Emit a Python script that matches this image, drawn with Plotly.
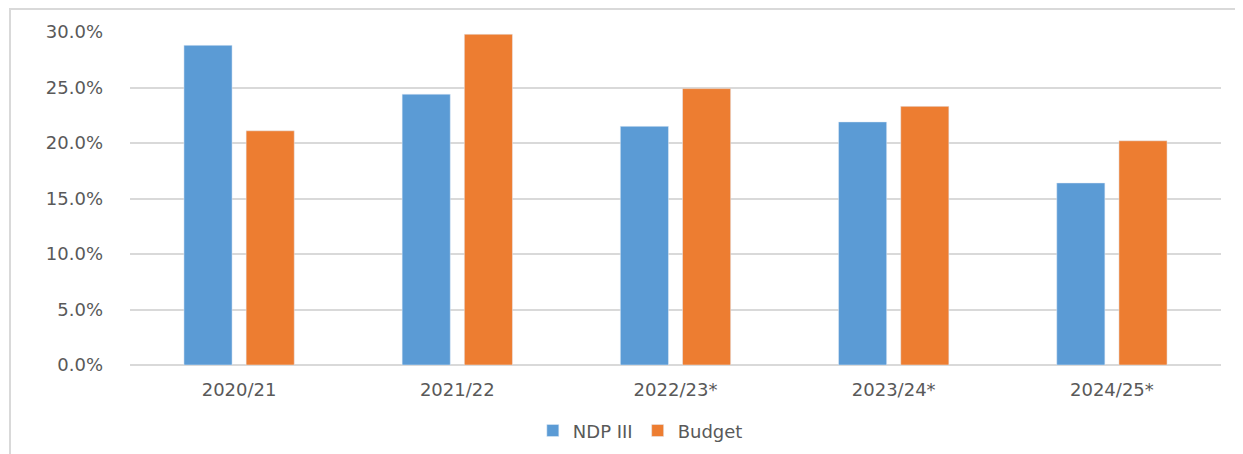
import plotly.graph_objects as go

years = ["2020/21", "2021/22", "2022/23*", "2023/24*", "2024/25*"]
ndp_iii = [28.8, 24.4, 21.5, 21.9, 16.4]
budget = [21.1, 29.8, 24.9, 23.3, 20.2]
y_ticks = [0, 5, 10, 15, 20, 25, 30]

font_name = "DejaVu Sans"
grey = "#595959"

fig = go.Figure()
fig.add_trace(go.Bar(x=years, y=ndp_iii, name="NDP III", marker_color="#5B9BD5"))
fig.add_trace(go.Bar(x=years, y=budget, name="Budget", marker_color="#ED7D31"))

# page body has an 8px margin, so the figure is a bit smaller than the window
fig.update_layout(
    width=1235, height=446,
    margin=dict(l=122, r=22, t=24, b=89, autoexpand=False),
    paper_bgcolor="white", plot_bgcolor="white",
    barmode="group", bargap=0.43, bargroupgap=0.226,
    font=dict(family=font_name, size=18, color=grey),
    legend=dict(orientation="h", xref="container", yref="container",
                x=0.512, xanchor="center", y=0.052, yanchor="middle",
                font=dict(size=18, color=grey), traceorder="normal",
                itemwidth=30),
    showlegend=True,
)
fig.update_xaxes(showgrid=False, showline=False, ticks="", automargin=False,
                 ticklabelstandoff=12, tickfont=dict(size=18, color=grey))
fig.update_yaxes(range=[0, 30], tickvals=y_ticks,
                 ticktext=[f"{v:.1f}%" for v in y_ticks],
                 showgrid=True, gridcolor="#D9D9D9", gridwidth=1.5,
                 zeroline=True, zerolinecolor="#D9D9D9", zerolinewidth=1.5,
                 ticks="", automargin=False, ticklabelstandoff=26,
                 tickfont=dict(size=18, color=grey))

# outer chart frame (partly cut off in the original)
fig.add_shape(type="rect", xref="paper", yref="paper",
              x0=-120 / 1091, x1=1.05, y0=-0.5, y1=1 + 23 / 333,
              line=dict(color="#D9D9D9", width=2), layer="below")

fig.write_html("out.html")
